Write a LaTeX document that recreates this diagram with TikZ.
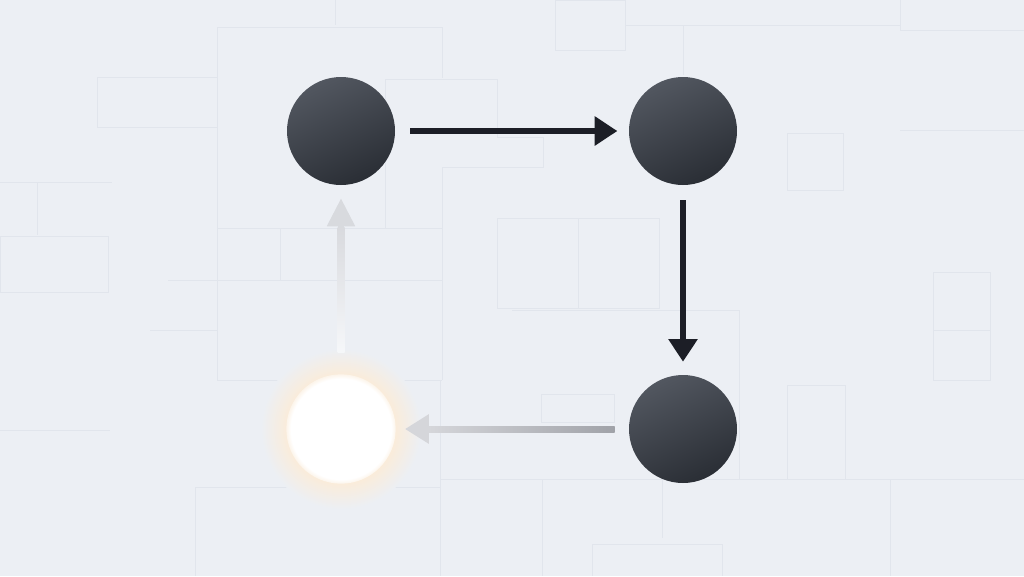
\documentclass[tikz,border=0pt]{standalone}
\usepackage{tikz}
\usetikzlibrary{arrows.meta, positioning, calc}
\definecolor{bgpaper}{RGB}{236, 239, 244}
\definecolor{faintline}{RGB}{225, 229, 236}
\definecolor{nodelight}{RGB}{82, 87, 96}
\definecolor{nodedeep}{RGB}{42, 46, 53}
\definecolor{arrowdark}{RGB}{28, 30, 38}
\definecolor{arrowgrey}{RGB}{160, 162, 168}
\definecolor{arrowpale}{RGB}{213, 214, 218}
\definecolor{glowwarm}{RGB}{250, 236, 218}
\pgfdeclareradialshading{warmglow}{\pgfpoint{0bp}{0bp}}{color(0bp)=(glowwarm); color(17bp)=(glowwarm); color(25bp)=(bgpaper); color(50bp)=(bgpaper)}
\pgfdeclareradialshading{whitecore}{\pgfpoint{0bp}{0bp}}{color(0bp)=(white); color(23bp)=(white); color(25bp)=(glowwarm!55!white); color(50bp)=(glowwarm)}

\begin{document}
\begin{tikzpicture}[x=0.75pt, y=-0.75pt,
  dot/.style={circle, inner sep=0pt, minimum size=81pt, top color=nodelight, bottom color=nodedeep, shading angle=25},
  lit/.style={circle, inner sep=0pt, minimum size=82pt, shade, shading=whitecore},
  flow/.style={line width=4.5pt, arrowdark, -{Triangle[length=17pt, width=21pt]}, shorten <=11.25pt, shorten >=8.5pt},
  faded/.style={flow, arrowpale},
  gridline/.style={faintline, line width=0.6pt}
]
  % Paper
  \useasboundingbox (0,0) rectangle (1024,576);
  \fill[bgpaper] (0,0) rectangle (1024,576);

  % Faint panels behind
  \draw[gridline] (335,0) -- (335,25);
  \draw[gridline] (217,380) -- (217,27) -- (442,27) -- (442,78);
  \draw[gridline] (97,77) rectangle (217,127);
  \draw[gridline] (385,228) -- (385,79) -- (497,79) -- (497,137) -- (543,137) -- (543,167) -- (442,167) -- (442,380);
  \draw[gridline] (217,228) -- (442,228);
  \draw[gridline] (280,228) -- (280,280);
  \draw[gridline] (168,280) -- (442,280);
  \draw[gridline] (150,330) -- (217,330);
  \draw[gridline] (217,380) -- (442,380);
  \draw[gridline] (0,182) -- (112,182);
  \draw[gridline] (37,182) -- (37,235);
  \draw[gridline] (0,236) rectangle (108,292);
  \draw[gridline] (555,0) rectangle (625,50);
  \draw[gridline] (625,25) -- (900,25);
  \draw[gridline] (683,25) -- (683,75);
  \draw[gridline] (900,0) -- (900,30) -- (1024,30);
  \draw[gridline] (900,130) -- (1024,130);
  \draw[gridline] (787,133) rectangle (843,190);
  \draw[gridline] (497,218) rectangle (578,308);
  \draw[gridline] (578,218) rectangle (659,308);
  \draw[gridline] (933,272) rectangle (990,380);
  \draw[gridline] (933,330) -- (990,330);
  \draw[gridline] (512,310) -- (739,310) -- (739,479);
  \draw[gridline] (541,394) rectangle (614,422);
  \draw[gridline] (787,385) rectangle (845,479);
  \draw[gridline] (440,479) -- (1024,479);
  \draw[gridline] (542,479) -- (542,576);
  \draw[gridline] (662,479) -- (662,538);
  \draw[gridline] (592,576) -- (592,544) -- (722,544) -- (722,576);
  \draw[gridline] (890,479) -- (890,576);
  \draw[gridline] (195,576) -- (195,487) -- (440,487);
  \draw[gridline] (440,380) -- (440,576);
  \draw[gridline] (0,430) -- (110,430);

  % Glow round the lit stop
  \shade[shading=warmglow] (341,429) circle (80);

  % Stops
  \node[dot] (first) at (341,131) {};
  \node[dot] (second) at (683,131) {};
  \node[dot] (third) at (683,429) {};
  \node[lit] (back) at (341,429) {};

  % Dark steps
  \draw[flow] (first) -- (second);
  \draw[flow, shorten >=9.75pt] (second) -- (third);

  % Fading return
  \draw[faded, -{Triangle[length=18pt, width=21pt]}, shorten <=10.5pt, shorten >=6.75pt] (third) -- (back);
  \shade[left color=arrowpale, right color=arrowgrey] ($(back.east)+(33,-3)$) rectangle ($(third.west)+(-14,3)$);
  \draw[faded, -{Triangle[length=21pt, width=20pt]}, arrowpale!85!bgpaper, shorten <=16.5pt, shorten >=9.75pt] (back) -- (first);
  \shade[top color=arrowpale!85!bgpaper, bottom color=bgpaper!50!white] ($(first.south)+(-3.5,42)$) rectangle ($(back.north)+(3.5,-22)$);
\end{tikzpicture}
\end{document}
